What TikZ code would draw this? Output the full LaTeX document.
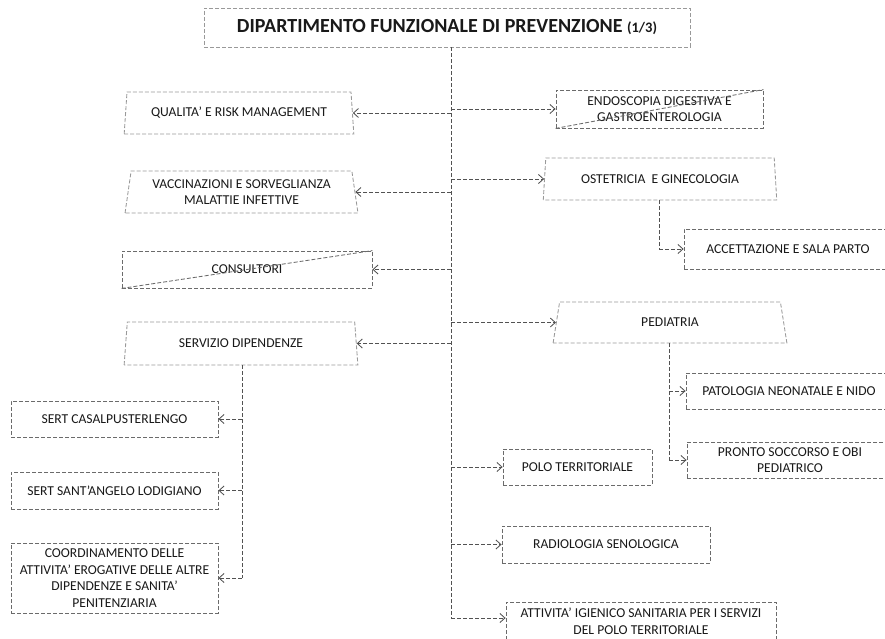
\documentclass[tikz,border=0pt]{standalone}
\usepackage{fontspec}
\setmainfont{Carlito}
\usetikzlibrary{shapes.geometric,arrows.meta}

\begin{document}
\begin{tikzpicture}[x=1pt,y=-1pt,
  txt/.style={font=\fontsize{13.6}{16.5}\selectfont, text=black!90, align=center, inner sep=0pt},
  dashline/.style={dash pattern=on 4pt off 2pt, line width=0.85pt},
  rbox/.style={txt, rectangle, draw=black!58, dashline},
  lbox/.style={txt, rectangle, draw=black!40, dashline},
  trap/.style={txt, trapezium, trapezium angle=79, trapezium stretches=true,
               draw=black!40, dashline},
  conn/.style={draw=black!68, dashline},
  arr/.style={conn, -{Straight Barb[length=5pt,width=9pt]}}
]
\useasboundingbox (0,0) rectangle (885,639);
\clip (0,0) rectangle (885,639);
\fill[white] (0,0) rectangle (885,639);

% department header
\node[lbox, minimum width=486, minimum height=39] (title) at (447,27.5)
  {\fontsize{20}{22}\selectfont\bfseries DIPARTIMENTO FUNZIONALE DI PREVENZIONE {\fontsize{14.5}{16}\selectfont (1/3)}};

% left column
\node[trap, minimum width=230, minimum height=42] (qual) at (239,113) {QUALITA' E RISK MANAGEMENT};
\node[trap, minimum width=233, minimum height=42] (vacc) at (241.5,192) {VACCINAZIONI E SORVEGLIANZA\\MALATTIE INFETTIVE};
\node[rbox, minimum width=250, minimum height=37] (cons) at (247,269.5) {CONSULTORI};
\node[trap, minimum width=234, minimum height=43] (serv) at (241,343.5) {SERVIZIO DIPENDENZE};

\node[rbox, minimum width=207, minimum height=36] (sert1) at (114.5,419) {SERT CASALPUSTERLENGO};
\node[rbox, minimum width=207, minimum height=37] (sert2) at (114.5,490.5) {SERT SANT’ANGELO LODIGIANO};
\node[rbox, minimum width=207, minimum height=70] (coord) at (114.5,578)
  {COORDINAMENTO DELLE\\ATTIVITA’ EROGATIVE DELLE ALTRE\\DIPENDENZE E SANITA’\\PENITENZIARIA};

% right column
\node[rbox, minimum width=207, minimum height=38] (endo) at (659.5,109) {ENDOSCOPIA DIGESTIVA E\\GASTROENTEROLOGIA};
\node[trap, minimum width=234, minimum height=42] (oste) at (660,179) {OSTETRICIA \ E GINECOLOGIA};
\node[rbox, minimum width=208, minimum height=40] (acce) at (788,249) {ACCETTAZIONE E SALA PARTO};
\node[trap, minimum width=234, minimum height=41] (pedi) at (670,322.5) {PEDIATRIA};
\node[rbox, minimum width=206, minimum height=36] (pato) at (789,391) {PATOLOGIA NEONATALE E NIDO};
\node[rbox, minimum width=206, minimum height=36] (pron) at (790,460) {PRONTO SOCCORSO E OBI\\PEDIATRICO};
\node[rbox, minimum width=149, minimum height=36] (polo) at (577.5,467) {POLO TERRITORIALE};
\node[rbox, minimum width=208, minimum height=37] (radi) at (606,544.5) {RADIOLOGIA SENOLOGICA};
\node[rbox, minimum width=270, minimum height=38] (atti) at (641,621)
  {ATTIVITA’ IGIENICO SANITARIA PER I SERVIZI\\DEL POLO TERRITORIALE};

% struck-through boxes
\draw[conn, draw=black!58] (cons.south west) -- (cons.north east);
\draw[conn, draw=black!58] (endo.south west) -- (endo.north east);

% main trunk
\coordinate (tend) at (451,618);
\draw[conn] (tend |- title.south) -- (tend);
\foreach \n in {qual,vacc,cons,serv}
  \draw[arr] (tend |- \n.east) -- (\n.east);
\foreach \n in {endo,oste,pedi,polo,radi}
  \draw[arr] (tend |- \n.west) -- (\n.west);
\draw[arr] (tend) -- (tend -| atti.west);

% dependency services
\coordinate (sdown) at (242,0);
\draw[conn] (sdown |- serv.south) -- (sdown |- coord.east);
\foreach \n in {sert1,sert2,coord}
  \draw[arr] (sdown |- \n.east) -- (\n.east);

% obstetrics
\coordinate (odown) at (659,0);
\draw[conn] (odown |- oste.south) -- (odown |- acce.west);
\draw[arr] (odown |- acce.west) -- (acce.west);

% paediatrics
\coordinate (pdown) at (669,0);
\draw[conn] (pdown |- pedi.south) -- (pdown |- pron.west);
\foreach \n in {pato,pron}
  \draw[arr] (pdown |- \n.west) -- (\n.west);
\end{tikzpicture}
\end{document}
